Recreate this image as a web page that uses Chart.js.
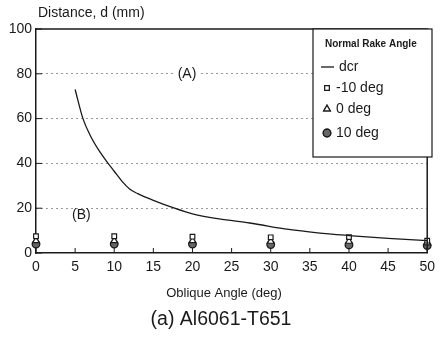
<!DOCTYPE html>
<html lang="en">
  <head>
    <meta charset="UTF-8">
    <title>Distance vs Oblique Angle</title>
    <script src="https://cdn.jsdelivr.net/npm/chart.js"></script>
    <style>
      html, body { margin: 0; padding: 0; background: #fff; }
      #wrap { width: 441px; height: 340px; }
    </style>
  </head>
  <body>
    <div id="wrap"><canvas id="chart" width="441" height="340"></canvas></div>
    <script>
      // values
      const angles = [0, 10, 20, 30, 40, 50];
      const rakeNeg10 = [7.5, 7.5, 7.3, 7, 7.1, 5.5];
      const rake0 = [5.5, 5.5, 5.5, 5.2, 5.2, 4.5];
      const rake10 = [4, 4, 4, 3.8, 3.6, 3.3];

      const dcrAngles = [5, 6, 7, 8, 9, 10, 11, 12, 13, 15, 17.7, 20, 23.4, 27.3, 32.3, 36, 40, 45, 50];
      const dcrValues = [73, 60, 52, 46, 41, 36.5, 32, 28.5, 26.5, 23.5, 20, 17.5, 15.2, 13.4, 10.5, 9, 7.8, 6.5, 5.5];

      const xTicks = [0, 5, 10, 15, 20, 25, 30, 35, 40, 45, 50];
      const yTicks = [0, 20, 40, 60, 80, 100];

      const legendTitle = 'Normal Rake Angle';
      const legendLabels = ['dcr', '-10 deg', '0 deg', '10 deg'];

      const ink = '#1a1a1a';
      const font = "'Liberation Sans', Arial, sans-serif";

      function pts(xs, ys) {
        return xs.map((x, i) => ({ x: x, y: ys[i] }));
      }

      const extras = {
        id: 'extras',
        afterDatasetsDraw(chart) {
          const ctx = chart.ctx;
          const a = chart.chartArea;
          const xs = chart.scales.x;
          const ys = chart.scales.y;
          ctx.save();

          // frame top and right
          ctx.strokeStyle = ink;
          ctx.lineWidth = 1.5;
          ctx.beginPath();
          ctx.moveTo(a.left, a.top);
          ctx.lineTo(a.right, a.top);
          ctx.lineTo(a.right, a.bottom);
          ctx.stroke();

          // inward ticks
          ctx.lineWidth = 1;
          ctx.beginPath();
          xTicks.forEach(v => {
            const px = xs.getPixelForValue(v);
            ctx.moveTo(px, a.bottom);
            ctx.lineTo(px, a.bottom - 5);
          });
          yTicks.forEach(v => {
            const py = ys.getPixelForValue(v);
            ctx.moveTo(a.left, py);
            ctx.lineTo(a.left + 6, py);
          });
          ctx.stroke();

          // annotations
          ctx.font = '14px ' + font;
          ctx.textAlign = 'center';
          ctx.textBaseline = 'middle';
          const ax = xs.getPixelForValue(19.3), ay = ys.getPixelForValue(80);
          ctx.fillStyle = '#fff';
          ctx.fillRect(ax - 14, ay - 8, 28, 16);
          ctx.fillStyle = ink;
          ctx.fillText('(A)', ax, ay);
          ctx.fillText('(B)', xs.getPixelForValue(5.8), ys.getPixelForValue(17));

          // legend box
          const lx = 313, ly = a.top, lw = 119, lh = 128;
          ctx.fillStyle = '#fff';
          ctx.fillRect(lx, ly, lw, lh);
          ctx.strokeStyle = ink;
          ctx.lineWidth = 1.2;
          ctx.strokeRect(lx, ly, lw, lh);

          ctx.fillStyle = ink;
          ctx.textAlign = 'left';
          ctx.font = 'bold 10px ' + font;
          ctx.fillText(legendTitle, 325, 44);

          const rows = [67, 88, 109, 133];
          ctx.font = '14px ' + font;
          legendLabels.forEach((label, i) => {
            const y = rows[i];
            if (i === 0) {
              ctx.beginPath();
              ctx.lineWidth = 1.3;
              ctx.moveTo(321, y);
              ctx.lineTo(334, y);
              ctx.stroke();
              ctx.fillText(label, 339, y);
            } else {
              const ds = chart.data.datasets[i];
              Chart.helpers.drawPoint(ctx, {
                pointStyle: ds.pointStyle,
                radius: ds.pointRadius,
                borderWidth: ds.borderWidth
              }, 327, y);
              ctx.fillStyle = ds.backgroundColor;
              ctx.strokeStyle = ds.borderColor;
              ctx.lineWidth = ds.borderWidth;
              ctx.fill();
              ctx.stroke();
              ctx.fillStyle = ink;
              ctx.strokeStyle = ink;
              ctx.fillText(label, 336, y);
            }
          });

          // axis titles and caption
          ctx.font = '14px ' + font;
          ctx.textAlign = 'left';
          ctx.fillText('Distance, d (mm)', 38, 13);
          ctx.font = '13px ' + font;
          ctx.textAlign = 'center';
          ctx.fillText('Oblique Angle (deg)', 224, 293);
          ctx.font = '19.5px ' + font;
          ctx.fillText('(a) Al6061-T651', 221, 320);
          ctx.restore();
        }
      };

      new Chart(document.getElementById('chart').getContext('2d'), {
        type: 'scatter',
        data: {
          datasets: [
            {
              label: 'dcr',
              data: pts(dcrAngles, dcrValues),
              showLine: true,
              borderColor: ink,
              borderWidth: 1.3,
              pointRadius: 0,
              cubicInterpolationMode: 'monotone',
              clip: false
            },
            {
              label: '-10 deg',
              data: pts(angles, rakeNeg10),
              pointStyle: 'rect',
              pointRadius: 3.3,
              backgroundColor: '#fff',
              borderColor: ink,
              borderWidth: 1.2,
              clip: false
            },
            {
              label: '0 deg',
              data: pts(angles, rake0),
              pointStyle: 'triangle',
              pointRadius: 3.8,
              backgroundColor: '#fff',
              borderColor: ink,
              borderWidth: 1.2,
              clip: false
            },
            {
              label: '10 deg',
              data: pts(angles, rake10),
              pointStyle: 'circle',
              pointRadius: 3.8,
              backgroundColor: '#666',
              borderColor: ink,
              borderWidth: 1.3,
              clip: false
            }
          ]
        },
        options: {
          responsive: false,
          animation: false,
          layout: { padding: { left: 0, top: 29, right: 12, bottom: 0 } },
          plugins: {
            legend: { display: false },
            tooltip: { enabled: false }
          },
          scales: {
            x: {
              type: 'linear',
              min: 0,
              max: 50,
              afterFit: s => { s.height = 87; },
              afterBuildTicks: s => { s.ticks = xTicks.map(v => ({ value: v })); },
              ticks: { color: ink, padding: 6, font: { family: font, size: 14 } },
              grid: { display: false, drawTicks: false },
              border: { display: true, color: ink, width: 1.5 }
            },
            y: {
              type: 'linear',
              min: 0,
              max: 100,
              afterFit: s => { s.width = 36; },
              afterBuildTicks: s => { s.ticks = yTicks.map(v => ({ value: v })); },
              ticks: { color: ink, padding: 4, font: { family: font, size: 14 } },
              grid: {
                drawTicks: false,
                lineWidth: 1,
                color: c => (c.tick && (c.tick.value === 0 || c.tick.value === 100)) ? 'rgba(0,0,0,0)' : '#333'
              },
              border: { display: true, color: ink, width: 1.5, dash: [1, 4] }
            }
          }
        },
        plugins: [extras]
      });
    </script>
  </body>
</html>
